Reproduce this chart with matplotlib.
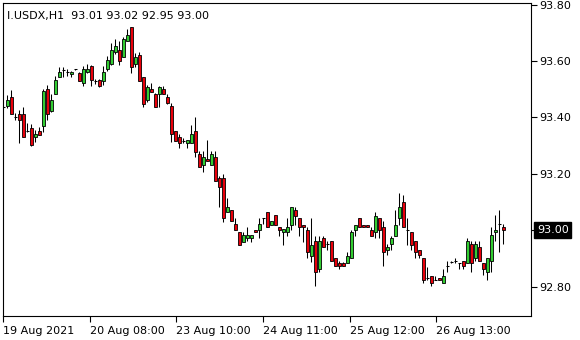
import matplotlib
matplotlib.use("Agg")
import matplotlib.pyplot as plt
import matplotlib.transforms as mtransforms
import numpy as np

# I.USDX H1 candles (open, high, low, close)
opens = [93.437, 93.441, 93.473, 93.402, 93.413, 93.413, 93.353, 93.363, 93.332, 93.353,
         93.370, 93.501, 93.423, 93.483, 93.543, 93.568, 93.561, 93.553, 93.571, 93.557,
         93.522, 93.561, 93.582, 93.529, 93.532, 93.529, 93.571, 93.589, 93.631, 93.641,
         93.613, 93.670, 93.722, 93.589, 93.620, 93.543, 93.462, 93.501, 93.483, 93.483,
         93.501, 93.473, 93.441, 93.353, 93.332, 93.318, 93.311, 93.311, 93.353, 93.272,
         93.230, 93.254, 93.230, 93.261, 93.187, 93.184, 93.064, 93.071, 93.022, 92.994,
         92.958, 92.973, 92.973, 93.001, 93.001, 93.043, 93.064, 93.018, 93.053, 93.011,
         92.994, 92.994, 93.018, 93.071, 93.043, 93.018, 93.001, 92.909, 92.962, 92.863,
         92.973, 92.951, 92.962, 92.902, 92.884, 92.884, 92.884, 92.902, 93.001, 93.043,
         93.018, 93.018, 93.001, 92.994, 93.043, 93.011, 92.930, 92.951, 92.980, 93.043,
         93.099, 93.001, 92.994, 92.962, 92.930, 92.902, 92.832, 92.839, 92.825, 92.832,
         92.814, 92.874, 92.888, 92.892, 92.884, 92.892, 92.884, 92.951, 92.902, 92.941,
         92.884, 92.853, 92.892, 92.994, 93.022, 93.011]
highs = [93.444, 93.480, 93.497, 93.416, 93.427, 93.437, 93.381, 93.377, 93.356, 93.367,
         93.501, 93.515, 93.483, 93.546, 93.578, 93.578, 93.571, 93.564, 93.573, 93.561,
         93.582, 93.589, 93.585, 93.536, 93.536, 93.582, 93.617, 93.663, 93.677, 93.670,
         93.684, 93.712, 93.722, 93.627, 93.631, 93.543, 93.515, 93.522, 93.487, 93.511,
         93.511, 93.483, 93.451, 93.353, 93.342, 93.328, 93.321, 93.374, 93.402, 93.282,
         93.282, 93.321, 93.282, 93.282, 93.191, 93.201, 93.113, 93.071, 93.043, 92.994,
         92.994, 93.011, 92.983, 93.001, 93.043, 93.043, 93.064, 93.032, 93.053, 93.011,
         93.004, 93.043, 93.082, 93.082, 93.043, 93.018, 93.011, 93.043, 92.980, 92.980,
         92.980, 92.962, 92.962, 92.902, 92.892, 92.888, 92.923, 93.001, 93.018, 93.043,
         93.018, 93.018, 93.011, 93.064, 93.043, 93.032, 92.951, 92.980, 93.071, 93.131,
         93.124, 93.043, 92.994, 92.962, 92.930, 92.902, 92.870, 92.839, 92.839, 92.832,
         92.863, 92.892, 92.892, 92.902, 92.884, 92.892, 92.973, 92.962, 92.962, 92.962,
         92.884, 92.902, 93.011, 93.053, 93.071, 93.022]
lows = [93.430, 93.434, 93.413, 93.392, 93.311, 93.332, 93.349, 93.300, 93.314, 93.339,
        93.349, 93.392, 93.420, 93.483, 93.543, 93.543, 93.546, 93.543, 93.569, 93.529,
        93.511, 93.557, 93.511, 93.518, 93.508, 93.515, 93.564, 93.585, 93.624, 93.585,
        93.613, 93.670, 93.557, 93.578, 93.529, 93.437, 93.455, 93.490, 93.437, 93.437,
        93.483, 93.448, 93.314, 93.318, 93.293, 93.311, 93.293, 93.311, 93.261, 93.223,
        93.208, 93.244, 93.230, 93.173, 93.082, 93.029, 93.064, 93.032, 93.001, 92.948,
        92.958, 92.962, 92.958, 92.994, 92.973, 93.022, 93.011, 93.018, 93.018, 92.980,
        92.948, 92.980, 93.001, 93.018, 92.980, 92.958, 92.902, 92.888, 92.803, 92.853,
        92.941, 92.930, 92.892, 92.874, 92.863, 92.874, 92.884, 92.902, 92.980, 93.011,
        93.011, 93.011, 92.980, 92.973, 92.973, 92.874, 92.913, 92.930, 92.980, 93.018,
        93.011, 92.948, 92.930, 92.902, 92.902, 92.814, 92.825, 92.803, 92.825, 92.825,
        92.814, 92.853, 92.884, 92.884, 92.863, 92.863, 92.884, 92.853, 92.892, 92.892,
        92.842, 92.825, 92.853, 92.962, 92.923, 92.951]
closes = [93.437, 93.462, 93.413, 93.402, 93.392, 93.332, 93.353, 93.303, 93.342, 93.339,
          93.494, 93.413, 93.462, 93.532, 93.561, 93.568, 93.561, 93.561, 93.571, 93.529,
          93.571, 93.571, 93.532, 93.529, 93.511, 93.561, 93.603, 93.641, 93.652, 93.599,
          93.677, 93.691, 93.578, 93.613, 93.529, 93.448, 93.508, 93.490, 93.437, 93.508,
          93.483, 93.451, 93.342, 93.318, 93.311, 93.318, 93.321, 93.342, 93.279, 93.223,
          93.261, 93.244, 93.272, 93.173, 93.152, 93.043, 93.082, 93.032, 93.001, 92.948,
          92.983, 92.983, 92.983, 92.994, 93.022, 93.043, 93.011, 93.032, 93.018, 93.001,
          93.004, 93.011, 93.082, 93.050, 93.011, 93.011, 92.923, 92.948, 92.853, 92.962,
          92.941, 92.951, 92.892, 92.874, 92.874, 92.874, 92.909, 92.994, 93.018, 93.011,
          93.011, 93.011, 92.980, 93.050, 93.001, 92.923, 92.941, 92.973, 93.018, 93.082,
          93.011, 93.001, 92.948, 92.923, 92.913, 92.825, 92.832, 92.814, 92.825, 92.825,
          92.839, 92.874, 92.888, 92.892, 92.884, 92.874, 92.962, 92.884, 92.951, 92.892,
          92.863, 92.902, 92.983, 93.001, 93.022, 93.001]

tick_pos = [0, 21.67, 43.33, 65, 86.67, 108.33]
tick_labels = ['19 Aug 2021', '20 Aug 08:00', '23 Aug 10:00', '24 Aug 11:00',
               '25 Aug 12:00', '26 Aug 13:00']
price_ticks = [92.80, 93.00, 93.20, 93.40, 93.60, 93.80]
title = 'I.USDX,H1  93.01 93.02 92.95 93.00'
last_price = 93.00

o = np.array(opens); h = np.array(highs); l = np.array(lows); c = np.array(closes)
x = np.arange(len(o))

fig = plt.figure(figsize=(5.8, 3.4), dpi=100)
ax = fig.add_axes([2.7 / 580, 1 - 316 / 340, 528 / 580, (316 - 2.7) / 340])
ax.set_xlim(-0.1, 131.9)
ax.set_ylim(92.696, 93.807)

# wicks
ax.vlines(x, l, h, color='black', linewidth=0.75, zorder=2)

up = c > o
down = c < o
flat = c == o
ax.bar(x[up], (c - o)[up], bottom=o[up], width=0.72, color='#32CD32',
       edgecolor='black', linewidth=0.6, zorder=3)
ax.bar(x[down], (o - c)[down], bottom=c[down], width=0.72, color='#E8000B',
       edgecolor='black', linewidth=0.6, zorder=3)
ax.hlines(c[flat], x[flat] - 0.4, x[flat] + 0.4, color='black', linewidth=0.75,
          zorder=3)

# the 93.00 level is labelled by the current price box instead
ax.yaxis.tick_right()
ax.set_yticks(price_ticks)
ax.set_yticklabels(['' if p == last_price else f'{p:.2f}' for p in price_ticks])
ax.set_xticks(tick_pos)
ax.set_xticklabels(tick_labels, ha='left')
ax.tick_params(axis='both', labelsize=8, length=4, width=0.8, color='black',
               direction='out', pad=2)
ax.tick_params(axis='x', pad=3)
for s in ax.spines.values():
    s.set_linewidth(0.8)
    s.set_color('black')

ax.text(0.008, 0.975, title, transform=ax.transAxes, fontsize=8,
        ha='left', va='top', color='black')

# current price marker on the right scale
trans = mtransforms.blended_transform_factory(ax.transAxes, ax.transData)
ax.text(1.0115, last_price, f'{last_price:.2f}', transform=trans, fontsize=8,
        color='white', ha='left', va='center', clip_on=False,
        bbox=dict(boxstyle='square,pad=0.25', facecolor='black', edgecolor='black'),
        zorder=5)

fig.savefig('out.png', dpi=100, facecolor='white')
